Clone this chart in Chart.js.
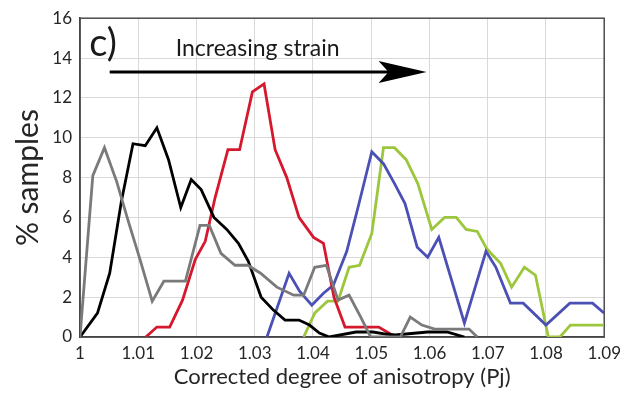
<!DOCTYPE html>
<html>
<head>
<meta charset="utf-8">
<script src="https://cdn.jsdelivr.net/npm/chart.js@4"></script>
<style>
  html, body { margin: 0; padding: 0; background: #fff; }
  #wrap { width: 627px; height: 394px; }
</style>
</head>
<body>
<div id="wrap"><canvas id="pjChart" width="627" height="394"></canvas></div>
<script>
// ---- data (x = Pj, y = % samples) ----
const xTickLabels = ['1', '1.01', '1.02', '1.03', '1.04', '1.05', '1.06', '1.07', '1.08', '1.09'];
const yTickLabels = ['0', '2', '4', '6', '8', '10', '12', '14', '16'];

const grayX  = [1.000, 1.0022, 1.0042, 1.0063, 1.0083, 1.0103, 1.0124, 1.0144, 1.0181, 1.0206, 1.0222, 1.0242, 1.0266, 1.0288, 1.031, 1.0338, 1.0367, 1.0384, 1.0403, 1.0423, 1.0443, 1.0462, 1.0482, 1.0499, 1.055, 1.0567, 1.0587, 1.0609, 1.0655, 1.0668, 1.0682];
const grayY  = [0, 8.1, 9.5, 7.8, 5.8, 3.9, 1.8, 2.8, 2.8, 5.6, 5.6, 4.2, 3.6, 3.6, 3.2, 2.5, 2.1, 2.1, 3.5, 3.6, 1.85, 2.1, 1.0, 0, 0, 1.0, 0.6, 0.4, 0.4, 0.4, 0];

const blackX = [1.000, 1.003, 1.0051, 1.0071, 1.0091, 1.0112, 1.0132, 1.0152, 1.0173, 1.0191, 1.0208, 1.023, 1.0252, 1.0272, 1.0289, 1.0311, 1.0332, 1.0352, 1.0376, 1.0394, 1.0411, 1.0428, 1.0474, 1.0503, 1.0525, 1.0541, 1.0597, 1.063, 1.066];
const blackY = [0, 1.2, 3.2, 6.8, 9.7, 9.6, 10.5, 8.9, 6.5, 7.9, 7.4, 6.0, 5.4, 4.7, 3.8, 2.0, 1.35, 0.85, 0.85, 0.6, 0.2, 0, 0.25, 0.25, 0.15, 0.1, 0.25, 0.25, 0];

const redX   = [1.0113, 1.0132, 1.0154, 1.0176, 1.0198, 1.0215, 1.0232, 1.0254, 1.0274, 1.0296, 1.0316, 1.0335, 1.0355, 1.0376, 1.0401, 1.0418, 1.0436, 1.0455, 1.0513, 1.053, 1.0541];
const redY   = [0, 0.5, 0.5, 1.85, 3.9, 4.8, 7.0, 9.4, 9.4, 12.3, 12.7, 9.4, 8.0, 6.0, 5.0, 4.7, 2.0, 0.5, 0.5, 0.2, 0];

const blueX  = [1.0321, 1.0359, 1.0377, 1.0398, 1.0418, 1.0435, 1.0458, 1.0479, 1.0501, 1.0521, 1.054, 1.0558, 1.0579, 1.0597, 1.0616, 1.066, 1.0697, 1.0714, 1.0739, 1.0761, 1.08, 1.0841, 1.088, 1.09];
const blueY  = [0, 3.2, 2.3, 1.6, 2.2, 2.6, 4.3, 6.7, 9.3, 8.7, 7.7, 6.7, 4.5, 4.0, 5.0, 0.7, 4.3, 3.5, 1.7, 1.7, 0.6, 1.7, 1.7, 1.2];

const greenX = [1.0384, 1.0403, 1.0425, 1.0443, 1.0462, 1.048, 1.0501, 1.0521, 1.054, 1.056, 1.058, 1.0604, 1.0626, 1.0646, 1.0663, 1.0682, 1.0699, 1.0722, 1.0741, 1.0763, 1.0782, 1.0804, 1.0824, 1.0842, 1.09];
const greenY = [0, 1.2, 1.8, 1.8, 3.5, 3.6, 5.2, 9.5, 9.5, 8.9, 7.7, 5.4, 6.0, 6.0, 5.4, 5.3, 4.4, 3.7, 2.5, 3.5, 3.1, 0, 0, 0.6, 0.6];

const FONT = 'Lato, "Open Sans", sans-serif';

function toPoints(xs, ys) {
    return xs.map((x, i) => ({ x: x, y: ys[i] }));
}

function series(xs, ys, color) {
    return {
        data: toPoints(xs, ys),
        borderColor: color,
        borderWidth: 2.8,
        pointRadius: 0,
        tension: 0,
        fill: false
    };
}

// frame round the plot, plus the "c)" label and the strain arrow
const annotations = {
    id: 'annotations',
    beforeDatasetsDraw(chart) {
        const { ctx, chartArea: a } = chart;
        ctx.save();
        ctx.strokeStyle = '#4d4d4d';
        ctx.lineWidth = 1.5;
        ctx.strokeRect(a.left, a.top, a.right - a.left, a.bottom - a.top);
        ctx.restore();
    },
    afterDatasetsDraw(chart) {
        const { ctx, scales: { x, y } } = chart;
        ctx.save();
        ctx.fillStyle = '#1a1a1a';
        ctx.font = '38px ' + FONT;
        ctx.textBaseline = 'middle';
        ctx.fillText('c)', x.getPixelForValue(1.0016), y.getPixelForValue(14.7));

        ctx.font = '23px ' + FONT;
        ctx.textAlign = 'center';
        ctx.fillText('Increasing strain', x.getPixelForValue(1.0305), y.getPixelForValue(14.5));

        const ay = y.getPixelForValue(13.3);
        const x0 = x.getPixelForValue(1.0051);
        const x1 = x.getPixelForValue(1.0595);
        ctx.strokeStyle = '#000';
        ctx.lineWidth = 3;
        ctx.beginPath();
        ctx.moveTo(x0, ay);
        ctx.lineTo(x1 - 30, ay);
        ctx.stroke();
        ctx.fillStyle = '#000';
        ctx.beginPath();
        ctx.moveTo(x1, ay);
        ctx.lineTo(x1 - 48, ay - 11);
        ctx.lineTo(x1 - 38, ay);
        ctx.lineTo(x1 - 48, ay + 11);
        ctx.closePath();
        ctx.fill();
        ctx.restore();
    }
};

new Chart(document.getElementById('pjChart'), {
    type: 'line',
    data: {
        datasets: [
            series(grayX, grayY, '#7a7a7a'),
            series(blackX, blackY, '#000000'),
            series(redX, redY, '#d6182f'),
            series(blueX, blueY, '#4b50b5'),
            series(greenX, greenY, '#9cc63b')
        ]
    },
    options: {
        responsive: false,
        animation: false,
        layout: { padding: { top: 18, right: 15, left: 6, bottom: 0 } },
        plugins: {
            legend: { display: false },
            tooltip: { enabled: false }
        },
        scales: {
            x: {
                type: 'linear',
                min: 1,
                max: 1.09,
                afterBuildTicks: (scale) => {
                    scale.ticks = xTickLabels.map(t => ({ value: parseFloat(t) }));
                },
                afterFit: (scale) => { scale.height = 57; },
                grid: { color: '#d9d9d9', lineWidth: 1, drawTicks: false },
                border: { color: '#333', width: 1.5 },
                ticks: {
                    color: '#262626',
                    font: { family: FONT, size: 17 },
                    padding: 6,
                    maxRotation: 0,
                    autoSkip: false,
                    callback: (v, i) => xTickLabels[i]
                },
                title: {
                    display: true,
                    text: 'Corrected degree of anisotropy (Pj)',
                    color: '#262626',
                    font: { family: FONT, size: 22 },
                    padding: { top: 2 }
                }
            },
            y: {
                min: 0,
                max: 16,
                afterBuildTicks: (scale) => {
                    scale.ticks = yTickLabels.map(t => ({ value: parseFloat(t) }));
                },
                afterFit: (scale) => { scale.width = 74; },
                grid: { color: '#d9d9d9', lineWidth: 1, drawTicks: false },
                border: { color: '#333', width: 1.5 },
                ticks: {
                    color: '#262626',
                    font: { family: FONT, size: 17 },
                    padding: 8,
                    callback: (v, i) => yTickLabels[i]
                },
                title: {
                    display: true,
                    text: '% samples',
                    color: '#262626',
                    font: { family: FONT, size: 30 },
                    padding: { bottom: 0 }
                }
            }
        }
    },
    plugins: [annotations]
});
</script>
</body>
</html>
